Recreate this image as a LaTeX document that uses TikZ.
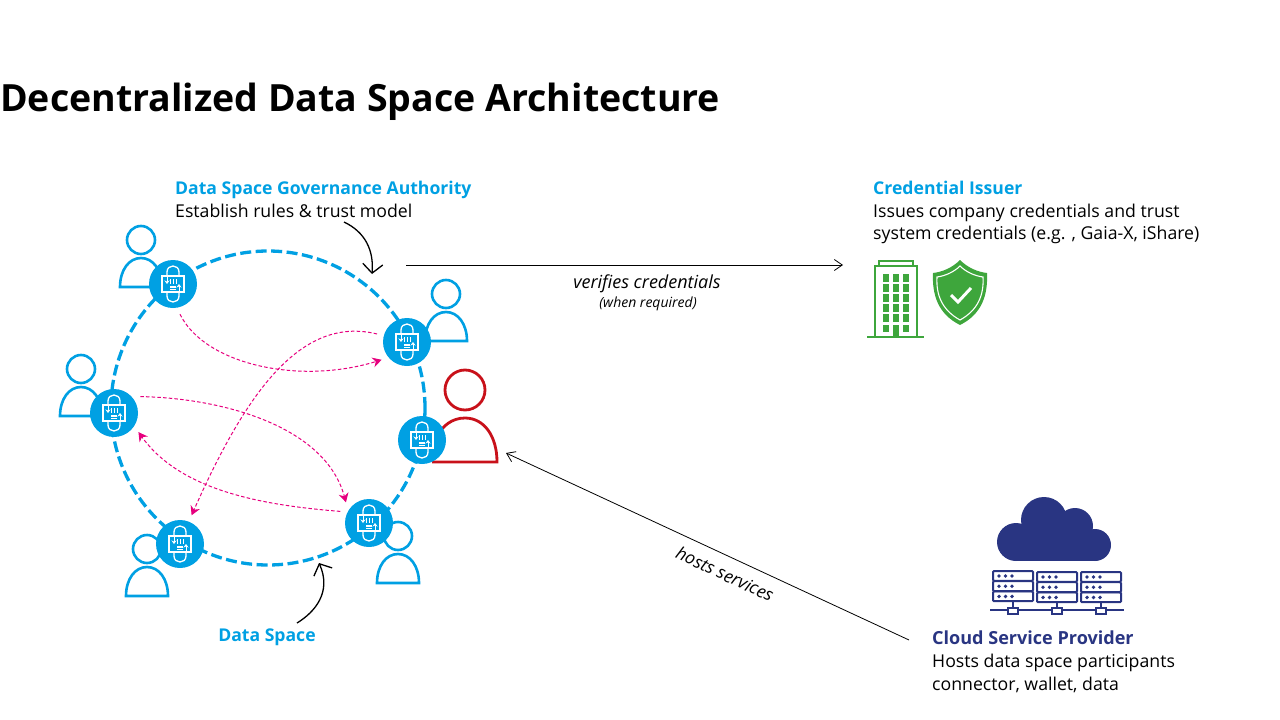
\documentclass[tikz,border=0pt]{standalone}
\usepackage{fontspec}
\setmainfont{Open Sans}
\usetikzlibrary{arrows.meta,positioning}
\definecolor{dsblue}{RGB}{0, 160, 227}
\definecolor{dspink}{RGB}{230, 0, 126}
\definecolor{dsred}{RGB}{200, 17, 26}
\definecolor{dsgreen}{RGB}{62, 166, 60}
\definecolor{dsnavy}{RGB}{41, 53, 130}
\newcommand{\txtsize}[1]{\fontsize{#1}{22.5}\selectfont}
\tikzset{
  hubdot/.style={circle,fill=dsblue,minimum size=48pt,inner sep=0pt,outer sep=7pt},
  person/.style={dsblue,line width=2.6pt},
  msgline/.style={dspink,line width=1pt,dash pattern=on 3.5pt off 2.2pt,-{Stealth[length=9pt,width=10pt]}},
  thinarrow/.style={black,line width=0.8pt,-{Straight Barb[length=8pt,width=11pt]}},
  bigarrow/.style={black,line width=1.3pt,-{Straight Barb[length=9pt,width=20pt]}},
  headtxt/.style={anchor=north west,inner sep=0pt,font=\bfseries\txtsize{17.6}},
  bodytxt/.style={anchor=north west,inner sep=0pt,align=left,font=\txtsize{17.7}},
  pics/lockicon/.style={code={
    \draw[white,line width=1.2pt] (-11,-8) rectangle (11,8);
    \draw[white,line width=1.3pt] (-6,-8) -- (-6,-12) .. controls (-6,-20) and (6,-20) .. (6,-12) -- (6,-8);
    \draw[white,line width=1.3pt] (-6,8) -- (-6,12) .. controls (-6,20) and (6,20) .. (6,12) -- (6,8);
    \draw[white,line width=1pt,-{Stealth[length=3.5pt,width=5pt]}] (-6,-8) -- (-6,0);
    \draw[white,line width=1pt,-{Stealth[length=3.5pt,width=5pt]}] (6,8) -- (6,0);
    \foreach \bx in {-3,0,3} \draw[white,line width=0.8pt] (\bx,-5) -- (\bx,0);
    \foreach \by in {2,3.5,5} \draw[white,line width=0.8pt] (-3,\by) -- (3,\by);
  }},
  pics/bluepers/.style={code={
    \draw[person] (0,0) circle[radius=14pt];
    \draw[person] (-21,47) .. controls (-21,30) and (-12,18) .. (0,18) .. controls (12,18) and (21,30) .. (21,47) -- cycle;
  }}
}

\begin{document}
\begin{tikzpicture}[x=1pt,y=-1pt]
\useasboundingbox (0,0) rectangle (1280,720);

% Title
\node[anchor=base west,inner sep=0pt,font=\bfseries\fontsize{37.5}{44}\selectfont] (title) at (0,111) {Decentralized Data Space Architecture};

% Data space ring
\draw[dsblue,line width=3.3pt,dash pattern=on 11pt off 4.5pt] (268,408) circle[radius=157pt];

% Participants
\pic at (141,240) {bluepers};
\pic at (446,294) {bluepers};
\pic at (81,369) {bluepers};
\pic at (398,536) {bluepers};
\pic at (147,549) {bluepers};

% Hosted participant (red)
\draw[dsred,line width=2.8pt] (465,390) circle[radius=20pt];
\draw[dsred,line width=2.8pt] (432,462) .. controls (445,462) and (445,462) .. (497,462) .. controls (497,436) and (484,418) .. (465,418) .. controls (452,418) and (442,426) .. (437,437);

% Connector hubs
\node[hubdot] (hubnw) at (173,284) {};
\node[hubdot] (hubne) at (407,342) {};
\node[hubdot] (hubea) at (422,440) {};
\node[hubdot] (hubse) at (369,523) {};
\node[hubdot] (hubsw) at (180,544) {};
\node[hubdot] (hubwe) at (114,413) {};
\foreach \hub in {hubnw,hubne,hubea,hubse,hubsw,hubwe}
  \pic at (\hub) {lockicon};

% Data exchange between hubs
\draw[msgline] (hubnw.-77) .. controls (205,365) and (300,385) .. (hubne.215);
\draw[msgline] (hubne.165) .. controls (300,315) and (245,395) .. (hubsw.68);
\draw[msgline] (hubwe.32) .. controls (220,398) and (325,425) .. (hubse.138);
\draw[msgline] (hubse.158) .. controls (260,505) and (180,490) .. (hubwe.-38);

% Labels left
\node[headtxt,text=dsblue] (govhead) at (175,180.5) {Data Space Governance Authority};
\node[bodytxt] (govbody) at (175,203.5) {Establish rules \& trust model};
\node[anchor=base,inner sep=0pt,font=\bfseries\txtsize{17.6},text=dsblue] (spacelbl) at (267,641) {Data Space};

\coordinate (govfrom) at (344,222);
\coordinate (govto) at (372,274);
\draw[bigarrow] (govfrom) .. controls (365,232) and (374,250) .. (govto);
\coordinate (spacefrom) at (297,623);
\coordinate (spaceto) at (319,563);
\draw[bigarrow] (spacefrom) .. controls (315,612) and (332,592) .. (spaceto);

% Credential issuer
\node[headtxt,text=dsblue] (credhead) at (873,180.5) {Credential Issuer};
\node[bodytxt] (credbody) at (873,203.5) {Issues company credentials and trust\\system credentials (e.g. , Gaia-X, iShare)};

\coordinate (verfrom) at (406,265);
\coordinate (verto) at (843,265);
\draw[thinarrow] (verfrom) -- (verto);
\node[font=\itshape\txtsize{18}] (verlbl) at (647,284) {verifies credentials};
\node[font=\itshape\txtsize{14}] (verlbltwo) at (648,304) {(when required)};

% Building
\draw[dsgreen,line width=2.4pt] (879,266) -- (879,261) -- (913,261) -- (913,266);
\draw[dsgreen,line width=2.4pt] (875,337) -- (875,266) -- (917,266) -- (917,337);
\draw[dsgreen,line width=2.8pt] (867,337) -- (924,337);
\foreach \wx in {886,896,906}
  \foreach \wy in {278,288,298,308,318}
    \fill[dsgreen] (\wx-3,\wy-3.8) rectangle (\wx+3,\wy+3.8);
\foreach \wx in {886,906}
  \fill[dsgreen] (\wx-3,325) rectangle (\wx+3,332);
\fill[dsgreen] (893,325) rectangle (899,337);

% Shield
\fill[dsgreen] (960,260) .. controls (968,268) and (978,272) .. (987,273) .. controls (988,295) and (982,314) .. (960,325) .. controls (938,314) and (932,295) .. (933,273) .. controls (942,272) and (952,268) .. (960,260) -- cycle;
\draw[white,line width=1.1pt] (960,266) .. controls (966,272) and (975,276) .. (983,277) .. controls (984,295) and (978,310) .. (960,320) .. controls (942,310) and (936,295) .. (937,277) .. controls (945,276) and (954,272) .. (960,266) -- cycle;
\draw[white,line width=3pt] (951,295) -- (958,302) -- (971,288);

% Cloud
\fill[dsnavy] (1016,542) circle[radius=19pt];
\fill[dsnavy] (1044,520) circle[radius=23pt];
\fill[dsnavy] (1075,526) circle[radius=18pt];
\fill[dsnavy] (1095,545) circle[radius=16pt];
\fill[dsnavy] (1016,530) rectangle (1095,561);

% Servers
\draw[dsnavy,line width=2pt] (990,610) -- (1124,610);
\foreach \sx/\sy in {993/571,1037/572,1081/572} {
  \foreach \row in {0,1,2} {
    \draw[dsnavy,line width=2pt,rounded corners=1pt] (\sx,\sy+\row*10.2) rectangle (\sx+40,\sy+\row*10.2+9.8);
    \foreach \dx in {6,12.5,19}
      \fill[dsnavy] (\sx+\dx,\sy+\row*10.2+5) circle[radius=1.9pt];
  }
  \draw[dsnavy,line width=2pt] (\sx+20,\sy+31) -- (\sx+20,608);
  \draw[dsnavy,line width=2pt,fill=white] (\sx+15,608) rectangle (\sx+25,614);
}

% Cloud service provider
\node[headtxt,text=dsnavy,font=\bfseries\txtsize{18.05}] (csphead) at (932,631) {Cloud Service Provider};
\node[bodytxt] (cspbody) at (932,654) {Hosts data space participants\\connector, wallet, data};

\coordinate (hostfrom) at (909,640);
\coordinate (hostto) at (506,453);
\draw[thinarrow] (hostfrom) -- (hostto);
\node[rotate=-25,font=\itshape\txtsize{17.5}] (hostlbl) at (725,574) {hosts services};
\end{tikzpicture}
\end{document}
